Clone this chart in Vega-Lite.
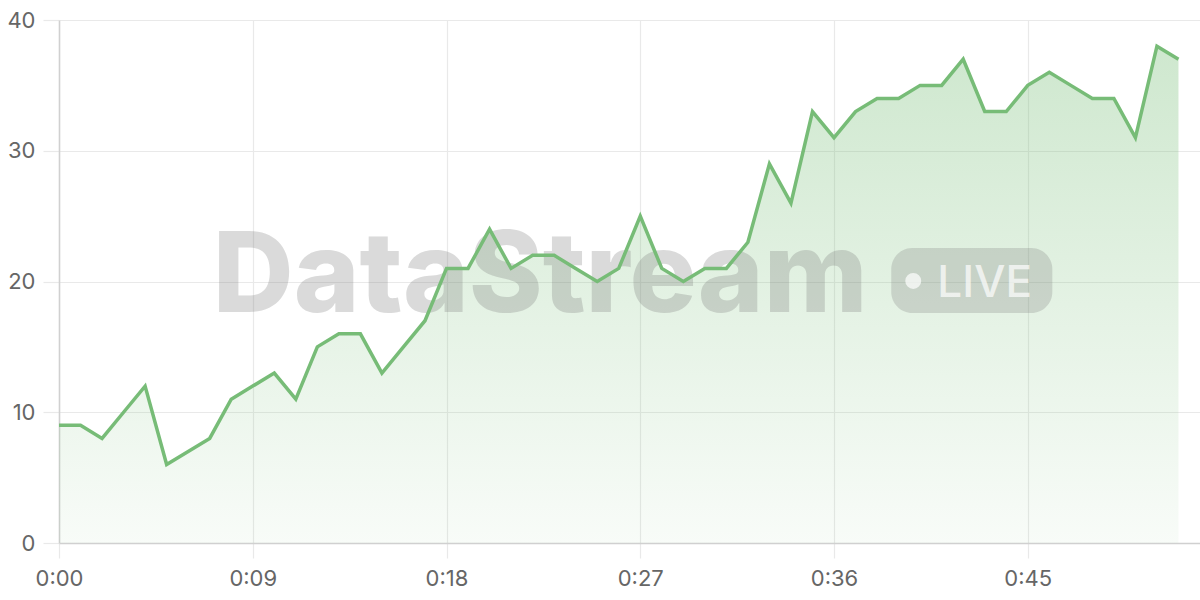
{
  "$schema": "https://vega.github.io/schema/vega-lite/v6.json",
  "width": 1141,
  "height": 523,
  "autosize": {"type": "none"},
  "padding": {"left": 59, "top": 20, "right": 0, "bottom": 57},
  "background": "white",
  "config": {
    "view": {"stroke": null},
    "axis": {
      "labelFont": "Inter",
      "labelFontSize": 22,
      "labelColor": "#666666",
      "gridColor": "#e9e9e9",
      "gridWidth": 1.2,
      "tickColor": "#e9e9e9",
      "tickWidth": 1.2,
      "domainColor": "#d0d0d0",
      "domainWidth": 1.5,
      "title": null
    }
  },
  "datasets": {
    "series": [
      {"t": 0, "v": 9}, {"t": 1, "v": 9}, {"t": 2, "v": 8}, {"t": 3, "v": 10}, {"t": 4, "v": 12},
      {"t": 5, "v": 6}, {"t": 6, "v": 7}, {"t": 7, "v": 8}, {"t": 8, "v": 11}, {"t": 9, "v": 12},
      {"t": 10, "v": 13}, {"t": 11, "v": 11}, {"t": 12, "v": 15}, {"t": 13, "v": 16}, {"t": 14, "v": 16},
      {"t": 15, "v": 13}, {"t": 16, "v": 15}, {"t": 17, "v": 17}, {"t": 18, "v": 21}, {"t": 19, "v": 21},
      {"t": 20, "v": 24}, {"t": 21, "v": 21}, {"t": 22, "v": 22}, {"t": 23, "v": 22}, {"t": 24, "v": 21},
      {"t": 25, "v": 20}, {"t": 26, "v": 21}, {"t": 27, "v": 25}, {"t": 28, "v": 21}, {"t": 29, "v": 20},
      {"t": 30, "v": 21}, {"t": 31, "v": 21}, {"t": 32, "v": 23}, {"t": 33, "v": 29}, {"t": 34, "v": 26},
      {"t": 35, "v": 33}, {"t": 36, "v": 31}, {"t": 37, "v": 33}, {"t": 38, "v": 34}, {"t": 39, "v": 34},
      {"t": 40, "v": 35}, {"t": 41, "v": 35}, {"t": 42, "v": 37}, {"t": 43, "v": 33}, {"t": 44, "v": 33},
      {"t": 45, "v": 35}, {"t": 46, "v": 36}, {"t": 47, "v": 35}, {"t": 48, "v": 34}, {"t": 49, "v": 34},
      {"t": 50, "v": 31}, {"t": 51, "v": 38}, {"t": 52, "v": 37}
    ],
    "one": [{"label": "watermark"}]
  },
  "layer": [
    {
      "data": {"name": "series"},
      "mark": {
        "type": "area",
        "fill": {
          "gradient": "linear",
          "x1": 0, "y1": 0, "x2": 0, "y2": 1,
          "stops": [
            {"offset": 0, "color": "rgba(120,190,120,0.36)"},
            {"offset": 1, "color": "rgba(120,190,120,0.05)"}
          ]
        }
      },
      "encoding": {
        "x": {
          "field": "t",
          "type": "quantitative",
          "scale": {"domain": [0, 53], "nice": false, "zero": false},
          "axis": {
            "values": [0, 9, 18, 27, 36, 45],
            "labelExpr": "'0:' + (datum.value < 10 ? '0' : '') + datum.value",
            "tickSize": 15,
            "labelPadding": 10,
            "labelFlush": false
          }
        },
        "y": {
          "field": "v",
          "type": "quantitative",
          "scale": {"domain": [0, 40], "nice": false},
          "axis": {
            "values": [0, 10, 20, 30, 40],
            "tickSize": 16,
            "labelPadding": 8
          }
        }
      }
    },
    {
      "data": {"name": "one"},
      "mark": {"type": "rect", "fill": "#787878", "fillOpacity": 0.25, "cornerRadius": 21},
      "encoding": {
        "x": {"datum": 38.66},
        "x2": {"datum": 46.14},
        "y": {"datum": 22.56},
        "y2": {"datum": 17.59}
      }
    },
    {
      "data": {"name": "one"},
      "mark": {"type": "text", "text": "DataStream", "font": "Inter", "fontWeight": 800, "fontSize": 112, "fill": "#787878", "fillOpacity": 0.27, "align": "center", "baseline": "alphabetic"},
      "encoding": {
        "x": {"datum": 22.35},
        "y": {"datum": 17.67}
      }
    },
    {
      "data": {"name": "one"},
      "mark": {"type": "point", "filled": true, "fill": "white", "fillOpacity": 0.7, "opacity": 1, "size": 254, "shape": "circle", "strokeWidth": 0},
      "encoding": {
        "x": {"datum": 39.68},
        "y": {"datum": 20.04}
      }
    },
    {
      "data": {"name": "one"},
      "mark": {"type": "text", "text": "LIVE", "font": "Inter", "fontWeight": 500, "fontSize": 44, "fill": "white", "fillOpacity": 0.7, "align": "left", "baseline": "alphabetic"},
      "encoding": {
        "x": {"datum": 40.8},
        "y": {"datum": 18.8}
      }
    },
    {
      "data": {"name": "series"},
      "mark": {"type": "line", "stroke": "#77bc77", "strokeWidth": 3.5, "strokeJoin": "miter"},
      "encoding": {
        "x": {"field": "t", "type": "quantitative"},
        "y": {"field": "v", "type": "quantitative"}
      }
    }
  ]
}
